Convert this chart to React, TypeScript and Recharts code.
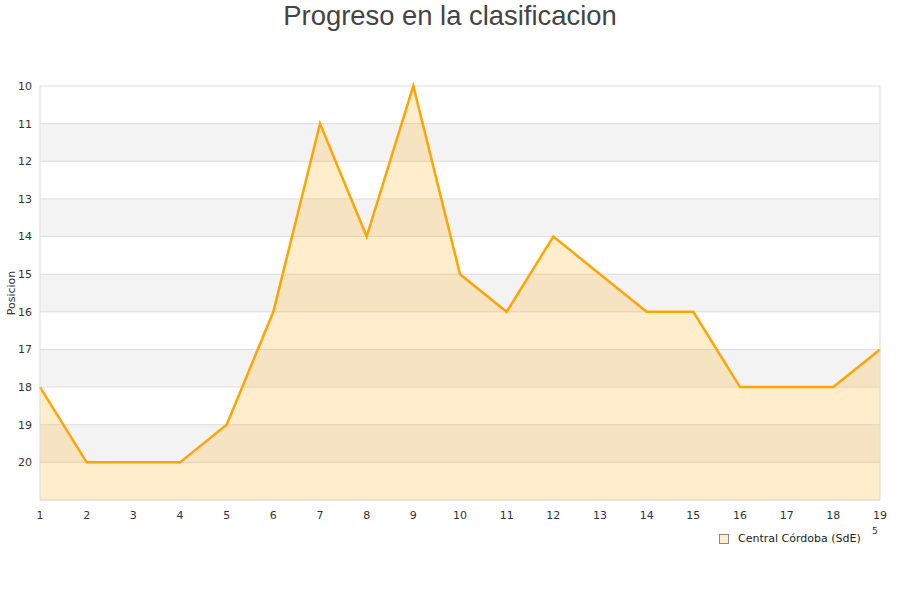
import React from 'react';
import { AreaChart, Area, XAxis, YAxis, CartesianGrid } from 'recharts';

const rounds = [1, 2, 3, 4, 5, 6, 7, 8, 9, 10, 11, 12, 13, 14, 15, 16, 17, 18, 19];
const positions = [18, 20, 20, 20, 19, 16, 11, 14, 10, 15, 16, 14, 15, 16, 16, 18, 18, 18, 17];
const yTicks = [10, 11, 12, 13, 14, 15, 16, 17, 18, 19, 20];
const seriesName = 'Central Córdoba (SdE)';
const title = 'Progreso en la clasificacion';
const yLabel = 'Posicion';

const data = rounds.map((r, i) => ({ round: r, pos: positions[i] }));

const font = '"DejaVu Sans", sans-serif';

export default function App() {
  return (
    <div style={{ position: 'absolute', left: 0, top: 0, width: 900, height: 600, background: '#fff' }}>
      <div style={{ position: 'absolute', left: 0, top: 0, width: 900, textAlign: 'center', fontFamily: '"Liberation Sans", Arial, sans-serif', fontSize: 27.4, color: '#444', lineHeight: '32px' }}>
        {title}
      </div>
      <AreaChart width={900} height={600} data={data} margin={{ top: 86, right: 0, bottom: 70, left: 0 }}>
        <CartesianGrid yAxisId="left" vertical={false} stroke="#dddddd" horizontalFill={['#ffffff', '#f3f3f3']} fillOpacity={1} />
        <XAxis
          dataKey="round"
          type="number"
          domain={[1, 19]}
          ticks={rounds}
          interval={0}
          height={30}
          tickLine={false}
          axisLine={{ stroke: '#dddddd' }}
          tick={{ fill: '#333', fontSize: 11, fontFamily: font, dy: 3 }}
        />
        <YAxis
          yAxisId="left"
          type="number"
          reversed
          domain={[10, 21]}
          ticks={yTicks}
          interval={0}
          width={40}
          tickLine={false}
          axisLine={{ stroke: '#dddddd' }}
          tick={{ fill: '#333', fontSize: 11, fontFamily: font }}
          label={{ value: yLabel, angle: -90, position: 'insideLeft', offset: 11, style: { fill: '#333', fontSize: 11, fontFamily: font, textAnchor: 'middle' } }}
        />
        <YAxis
          yAxisId="right"
          orientation="right"
          type="number"
          reversed
          domain={[10, 21]}
          width={20}
          tick={false}
          tickLine={false}
          axisLine={{ stroke: '#dddddd' }}
        />
        <Area
          yAxisId="left"
          type="linear"
          dataKey="pos"
          name={seriesName}
          baseValue={21}
          stroke="#ffa500"
          strokeWidth={2.5}
          fill="#ffa500"
          fillOpacity={0.2}
          dot={false}
          activeDot={false}
          isAnimationActive={false}
        />
      </AreaChart>
      <div style={{ position: 'absolute', left: 719, top: 532, display: 'flex', alignItems: 'center', fontFamily: font, fontSize: 11, color: '#222', lineHeight: '14px' }}>
        <span style={{ display: 'inline-block', width: 8, height: 8, border: '1px solid #888', background: '#ffedcc', marginRight: 9 }} />
        <span>{seriesName}</span>
      </div>
      <div style={{ position: 'absolute', left: 872, top: 526, fontFamily: font, fontSize: 9, color: '#333' }}>5</div>
    </div>
  );
}
